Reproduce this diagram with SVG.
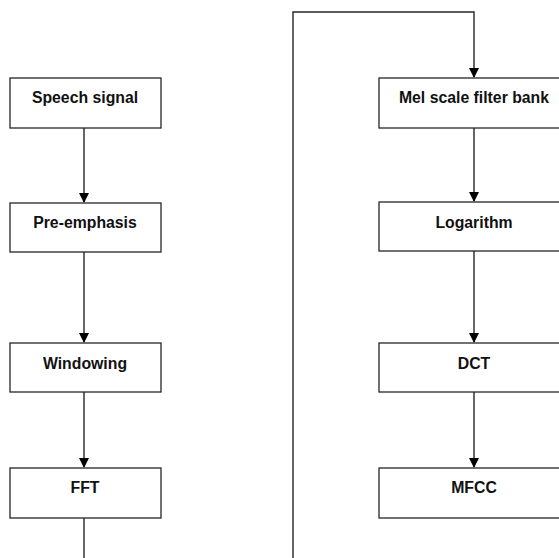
<svg xmlns="http://www.w3.org/2000/svg" width="559" height="558" viewBox="0 0 559 558">
<style>
.box{fill:#fff;stroke:#262626;stroke-width:1.3}
.lbl{font-family:"Liberation Sans",Arial,sans-serif;font-weight:bold;font-size:15.8px;fill:#111;text-anchor:middle}
.con{fill:none;stroke:#262626;stroke-width:1.4}
</style>
<defs>
<marker id="ah" markerWidth="11" markerHeight="11" refX="9" refY="5" orient="auto" markerUnits="userSpaceOnUse">
<path d="M0,0 L10,5 L0,10 Z" fill="#000"/>
</marker>
</defs>
<rect width="559" height="558" fill="#fff"/>
<g id="connectors">
<line class="con" x1="84" y1="128" x2="84" y2="202" marker-end="url(#ah)"/>
<line class="con" x1="84" y1="252" x2="84" y2="342" marker-end="url(#ah)"/>
<line class="con" x1="84" y1="392" x2="84" y2="467" marker-end="url(#ah)"/>
<line class="con" x1="84" y1="518" x2="84" y2="558"/>
<polyline class="con" points="293,558 293,12 474,12 474,77" marker-end="url(#ah)"/>
<line class="con" x1="474" y1="128" x2="474" y2="201" marker-end="url(#ah)"/>
<line class="con" x1="474" y1="251" x2="474" y2="342" marker-end="url(#ah)"/>
<line class="con" x1="474" y1="392" x2="474" y2="467" marker-end="url(#ah)"/>
</g>
<g id="speech"><rect class="box" x="10" y="78" width="151" height="50"/><text class="lbl" x="85" y="103">Speech signal</text></g>
<g id="preemph"><rect class="box" x="10" y="203" width="151" height="49"/><text class="lbl" x="85" y="228">Pre-emphasis</text></g>
<g id="windowing"><rect class="box" x="10" y="343" width="151" height="49"/><text class="lbl" x="85" y="369">Windowing</text></g>
<g id="fft"><rect class="box" x="10" y="468" width="151" height="50"/><text class="lbl" x="85" y="493">FFT</text></g>
<g id="mel"><rect class="box" x="379" y="78" width="190" height="50"/><text class="lbl" x="474" y="103">Mel scale filter bank</text></g>
<g id="log"><rect class="box" x="379" y="202" width="190" height="49"/><text class="lbl" x="474" y="228">Logarithm</text></g>
<g id="dct"><rect class="box" x="379" y="343" width="190" height="49"/><text class="lbl" x="474" y="369">DCT</text></g>
<g id="mfcc"><rect class="box" x="379" y="468" width="190" height="50"/><text class="lbl" x="474" y="493">MFCC</text></g>
</svg>
